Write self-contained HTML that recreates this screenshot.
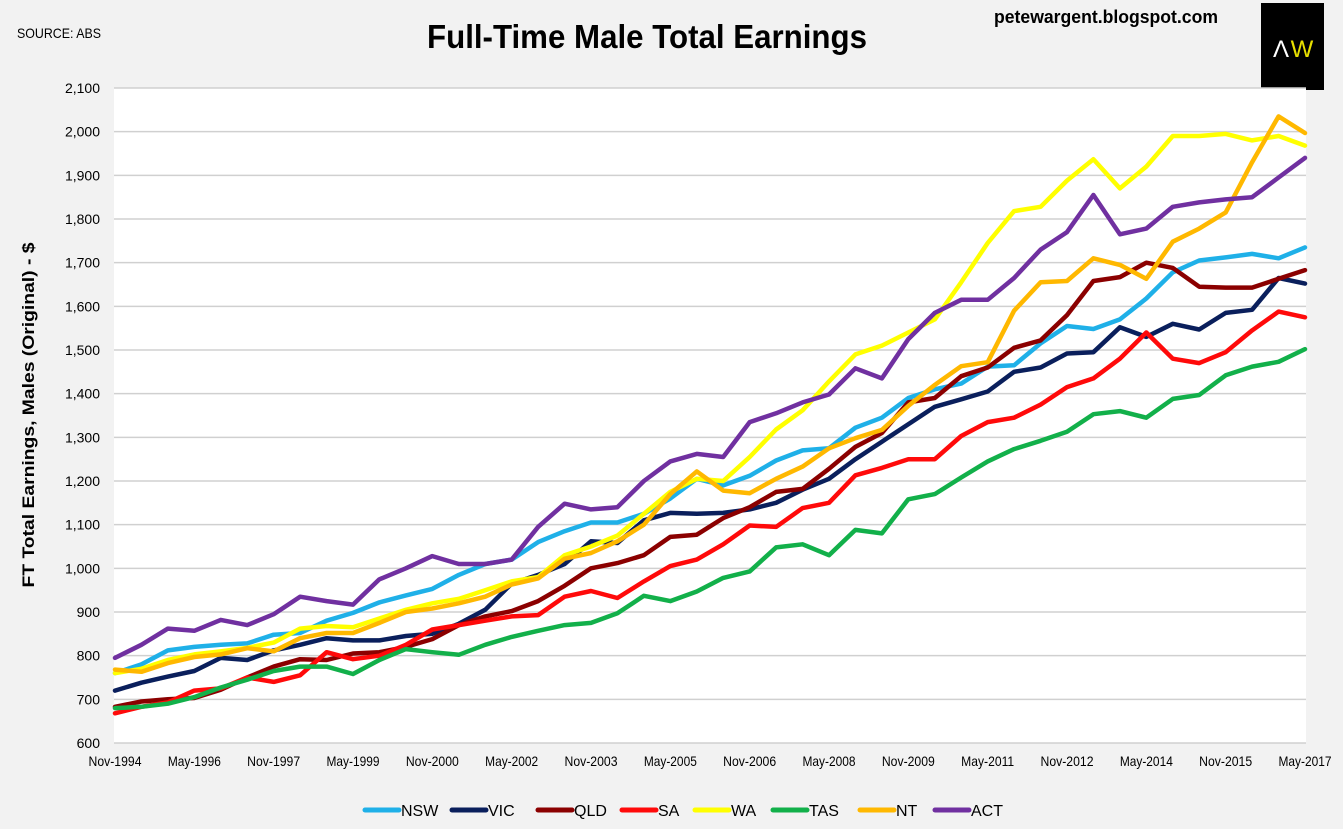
<!DOCTYPE html>
<html><head><meta charset="utf-8"><style>
html,body{margin:0;padding:0;background:#f2f2f2;}
svg{display:block;font-family:"Liberation Sans",Arial,sans-serif;}
</style></head><body>
<svg id="chart" width="1343" height="829" viewBox="0 0 1343 829">
<rect x="0" y="0" width="1343" height="829" fill="#f2f2f2"/>
<text x="17" y="38" font-size="14" fill="#000" textLength="84" lengthAdjust="spacingAndGlyphs">SOURCE: ABS</text>
<text x="647" y="48" font-size="33" font-weight="bold" text-anchor="middle" fill="#000" textLength="440" lengthAdjust="spacingAndGlyphs">Full-Time Male Total Earnings</text>
<text x="1106" y="23" font-size="18" font-weight="bold" text-anchor="middle" fill="#000" textLength="224" lengthAdjust="spacingAndGlyphs">petewargent.blogspot.com</text>
<g>
<rect x="1261" y="3" width="63" height="87" fill="#000"/>
<text x="1281" y="57" font-size="24" fill="#fff" text-anchor="middle">Λ</text>
<text x="1302" y="57" font-size="24" fill="#e8e000" text-anchor="middle">W</text>
</g>
<rect x="114" y="88" width="1192" height="655" fill="#fff"/>
<g id="grid"></g>
<g id="yticks"></g>
<g id="xticks"></g>
<text transform="translate(34,415) rotate(-90)" font-size="17" font-weight="bold" text-anchor="middle" fill="#000" textLength="345" lengthAdjust="spacingAndGlyphs">FT Total Earnings, Males (Original) - $</text>
<g id="series"></g>
<g id="legend"></g>
</svg>
<script>
const xTickLabels=["Nov-1994","May-1996","Nov-1997","May-1999","Nov-2000","May-2002","Nov-2003","May-2005","Nov-2006","May-2008","Nov-2009","May-2011","Nov-2012","May-2014","Nov-2015","May-2017"];
const yTicks=[600,700,800,900,1000,1100,1200,1300,1400,1500,1600,1700,1800,1900,2000,2100];
const seriesNames=["NSW","VIC","QLD","SA","WA","TAS","NT","ACT"];
const NSW=[760,780,812,820,825,828,848,852,880,898,922,938,953,985,1010,1020,1060,1085,1105,1105,1125,1160,1205,1190,1212,1247,1270,1275,1322,1345,1390,1410,1423,1462,1465,1515,1555,1548,1570,1618,1678,1705,1712,1720,1710,1735];
const VIC=[720,738,752,765,795,790,812,825,840,835,835,845,850,873,905,965,985,1010,1062,1058,1110,1127,1125,1127,1135,1150,1180,1205,1250,1290,1330,1370,1387,1405,1450,1460,1492,1495,1552,1530,1560,1547,1585,1592,1665,1652];
const QLD=[683,695,700,703,722,750,775,792,790,805,808,820,838,870,890,902,925,960,1000,1012,1030,1072,1077,1115,1140,1175,1182,1228,1278,1310,1380,1390,1440,1460,1505,1522,1580,1658,1667,1700,1688,1645,1643,1643,1663,1683];
const SA=[668,683,693,720,725,750,740,755,808,792,800,825,860,870,880,890,893,935,948,932,970,1005,1020,1055,1098,1095,1138,1150,1213,1230,1250,1250,1303,1335,1345,1375,1415,1435,1480,1540,1480,1470,1495,1545,1588,1575];
const WA=[760,770,790,803,810,818,830,862,868,865,885,905,920,930,950,970,980,1030,1050,1075,1125,1175,1205,1200,1255,1318,1362,1428,1490,1510,1540,1570,1655,1745,1818,1828,1888,1937,1870,1920,1990,1990,1995,1980,1990,1968];
const TAS=[680,683,690,705,727,745,765,775,775,758,790,815,808,802,825,843,857,870,875,897,937,925,947,978,993,1048,1055,1030,1088,1080,1158,1170,1208,1245,1273,1292,1313,1353,1360,1345,1388,1397,1442,1462,1473,1502];
const NT=[768,763,783,797,803,817,810,840,852,852,875,900,908,920,935,963,977,1022,1035,1062,1100,1170,1222,1178,1172,1205,1233,1275,1298,1317,1372,1420,1463,1472,1590,1655,1658,1710,1695,1663,1748,1778,1815,1930,2035,1997];
const ACT=[795,825,862,857,882,870,895,935,925,917,975,1000,1028,1010,1010,1020,1095,1148,1135,1140,1200,1245,1262,1255,1335,1355,1380,1398,1458,1435,1525,1585,1615,1615,1665,1730,1770,1855,1765,1778,1828,1838,1845,1850,1895,1940];
const seriesData=[NSW,VIC,QLD,SA,WA,TAS,NT,ACT];
const colors=["#1fb0e8","#0a1f5c","#8b0000","#ff0a0a","#ffff00","#12b04a","#ffb800","#7030a0"];

const NS="http://www.w3.org/2000/svg";
const X0=115,X1=1305,Y0=743,Y1=88,VMIN=600,VMAX=2100;
const nPts=NSW.length;
function xScale(i){return X0+(X1-X0)*i/(nPts-1);}
function yScale(v){return Y0-(v-VMIN)/(VMAX-VMIN)*(Y0-Y1);}
function mk(tag,attrs,parent){const e=document.createElementNS(NS,tag);for(const k in attrs)e.setAttribute(k,attrs[k]);parent.appendChild(e);return e;}

const grid=document.getElementById('grid'),yt=document.getElementById('yticks'),xt=document.getElementById('xticks');
yTicks.forEach(v=>{
  const l=mk('line',{x1:114,x2:1306,y1:yScale(v),y2:yScale(v),stroke:'#d0d0d0','stroke-width':1.5},grid);
  
  
  const t=mk('text',{x:100,y:yScale(v)+5,'font-size':14,'text-anchor':'end',fill:'#000'},yt);
  
  
  t.textContent=v.toLocaleString('en-US');
});
const step=(nPts-1)/(xTickLabels.length-1);
xTickLabels.forEach((lab,k)=>{
  const t=mk('text',{x:xScale(k*step),y:766,'font-size':14,'text-anchor':'middle',fill:'#000',textLength:53,lengthAdjust:'spacingAndGlyphs'},xt);
  
  
  t.textContent=lab;
});
const sg=document.getElementById('series');
seriesData.forEach((arr,s)=>{
  const pts=arr.map((v,i)=>xScale(i).toFixed(1)+','+yScale(v).toFixed(1)).join(' ');
  const p=mk('polyline',{points:pts,fill:'none',stroke:colors[s],'stroke-width':4.5,'stroke-linejoin':'round','stroke-linecap':'round'},sg);
  
  
});
const lg=document.getElementById('legend');
const legX=[365,452,538,622,695,773,860,935];
seriesNames.forEach((n,s)=>{
  const g=mk('g',{},lg);
  
  
  mk('line',{x1:legX[s],x2:legX[s]+34,y1:810,y2:810,stroke:colors[s],'stroke-width':5,'stroke-linecap':'round'},g);
  const t=mk('text',{x:legX[s]+36,y:816,'font-size':16,fill:'#000'},g);
  t.textContent=n;
});
</script>
</body></html>
